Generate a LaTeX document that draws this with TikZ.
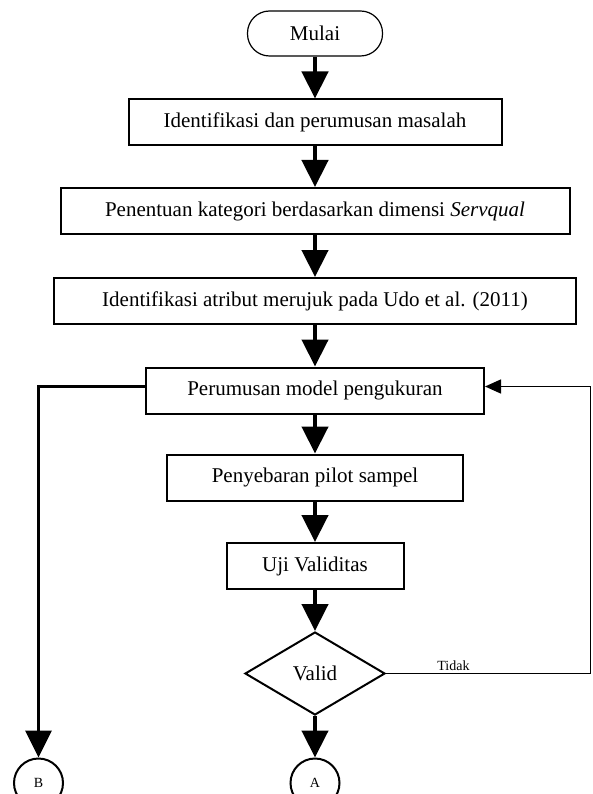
\documentclass[tikz,border=0pt]{standalone}
\usepackage{fontspec}
\setmainfont{Liberation Serif}
\usepackage{tikz}
\usetikzlibrary{arrows.meta, positioning, shapes.geometric, calc}

\begin{document}
\begin{tikzpicture}[
    x=1pt, y=-1pt,
    process/.style={rectangle, draw=black, line width=2pt, fill=white, minimum width=#1, minimum height=46pt, inner sep=0pt, align=center, font=\fontsize{21}{25}\selectfont},
    process/.default={300pt},
    terminal/.style={rectangle, draw=black, line width=1.2pt, rounded corners=22pt, minimum width=135pt, minimum height=45pt, font=\fontsize{21}{25}\selectfont},
    decision/.style={diamond, draw=black, line width=2pt, minimum width=140pt, minimum height=83pt, inner sep=0pt, font=\fontsize{21}{25}\selectfont},
    connector/.style={circle, draw=black, line width=2pt, minimum size=49pt, inner sep=0pt, font=\fontsize{14}{16}\selectfont},
    arrow/.style={-{Triangle[length=27pt, width=26pt]}, line width=#1},
    arrow/.default={4.5pt},
    thinarrow/.style={-{Triangle[length=16pt, width=14pt]}, line width=1.5pt},
    label/.style={font=\fontsize{14}{16}\selectfont, inner sep=2pt}
]
\useasboundingbox (0,0) rectangle (592,794);

% === ALUR UTAMA ===
\node[terminal] (mulai) at (315,33.5) {Mulai};
\node[process=373pt] (identif) at (315,122.5) {Identifikasi dan perumusan masalah};
\node[process=509pt] (kategori) at (315,211) {Penentuan kategori berdasarkan dimensi \textit{Servqual}};
\node[process=522pt] (atribut) at (315,301) {Identifikasi atribut merujuk pada Udo et al. (2011)};
\node[process=338pt] (model) at (315,390.5) {Perumusan model pengukuran};
\node[process=296pt] (pilot) at (315,477.5) {Penyebaran pilot sampel};
\node[process=177pt] (uji) at (315,566) {Uji Validitas};
\node[decision] (valid) at (315,673.5) {Valid};

% === KONEKTOR ===
\node[connector] (conA) at (315,783) {A};
\node[connector] (conB) at (38.5,783) {B};
\coordinate (loopR) at (590.5,673.5);

% === FLECHAS ===
\draw[arrow] (mulai.south) -- (identif.north);
\draw[arrow] (identif.south) -- (kategori.north);
\draw[arrow] (kategori.south) -- (atribut.north);
\draw[arrow] (atribut.south) -- (model.north);
\draw[arrow] (model.south) -- (pilot.north);
\draw[arrow] (pilot.south) -- (uji.north);
\draw[arrow] (uji.south) -- (valid.north);
\draw[arrow] (valid.south) -- (conA.north);

% ke B
\draw[arrow=3.5pt] ([yshift=4pt]model.west) -| (conB.north);

% kembali jika tidak valid
\draw[thinarrow] (valid.east) -- node[label, above, pos=0.33] {Tidak} (loopR) |- ([yshift=4pt]model.east);

\end{tikzpicture}
\end{document}
